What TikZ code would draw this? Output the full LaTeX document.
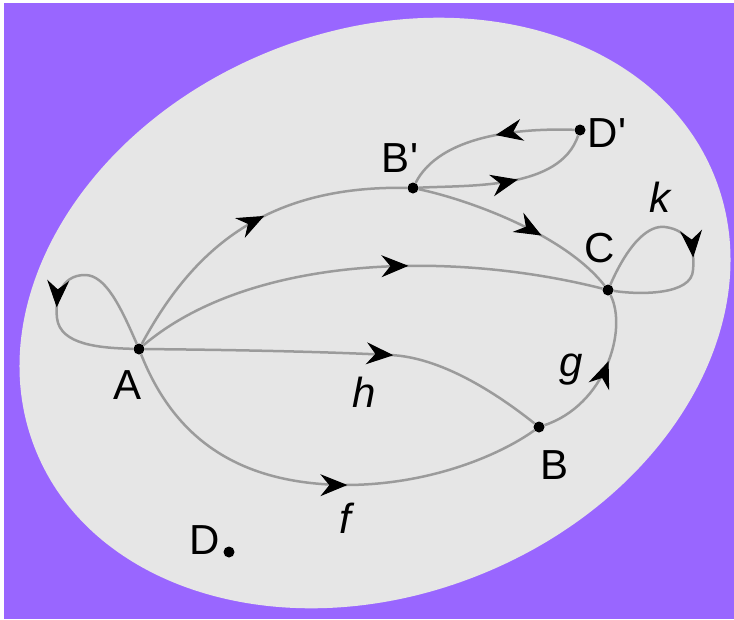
\documentclass[tikz,border=0pt]{standalone}
\usepackage{fontspec}
\setmainfont{Liberation Sans}
\usetikzlibrary{arrows.meta,decorations.markings}

\definecolor{bgpurple}{RGB}{153,102,255}
\definecolor{setgray}{RGB}{230,230,230}
\definecolor{curvegray}{RGB}{155,155,155}

\begin{document}
\begin{tikzpicture}[x=1pt,y=-1pt,
    maptip/.tip={Stealth[length=27pt,width=22pt,inset=9pt]},
    dot/.style={circle,fill=black,inner sep=0pt,minimum size=11pt},
    curve/.style={draw=curvegray,line width=2.5pt},
    midarrow/.style={postaction={decorate},
        decoration={markings,mark=at position #1 with {\arrow[black,line width=1pt]{maptip}}}},
    lbl/.style={font=\fontsize{42}{48}\selectfont},
    fname/.style={font=\fontsize{42}{48}\selectfont\itshape}]

% background and the set
\useasboundingbox (0,0) rectangle (734,619);
\fill[white] (0,0) rectangle (734,619);
\fill[bgpurple] (4,3) rectangle (734,619);
\fill[setgray,rotate around={22:(375,313)}] (375,313) ellipse [x radius=366, y radius=282];

% points
\node[dot] (A) at (139,349) {};
\node[dot] (Bp) at (413,188) {};
\node[dot] (Dp) at (580,130) {};
\node[dot] (C) at (608,290) {};
\node[dot] (B) at (539,427) {};
\node[dot] (D) at (229,552) {};

% point names
\node[lbl] (nameA) at (128,385) {A};
\node[lbl] (nameBp) at (400,158) {B\textquotesingle};
\node[lbl] (nameDp) at (607,133) {D\textquotesingle};
\node[lbl] (nameC) at (600,248) {C};
\node[lbl] (nameB) at (555,465) {B};
\node[lbl] (nameD) at (205,540) {D};

% map names
\node[fname] (namek) at (660,197) {k};
\node[fname] (nameg) at (571,370) {g};
\node[fname] (nameh) at (364,392) {h};
\node[fname] (namef) at (345,518) {f};

% arrows
\draw[curve,midarrow=0.58] (A) .. controls (120,305) and (105,275) .. (85,275)
    .. controls (60,275) and (55,300) .. (57,318) .. controls (60,345) and (100,348) .. (A);
\draw[curve,midarrow=0.55] (A) .. controls (190,255) and (260,185) .. (Bp);
\draw[curve,midarrow=0.59] (A) .. controls (250,255) and (450,250) .. (C);
\draw[curve,midarrow=0.61] (A) .. controls (250,350) and (330,352) .. (390,355)
    .. controls (440,357) and (495,392) .. (B);
\draw[curve,midarrow=0.57] (A) .. controls (175,440) and (240,484) .. (345,485)
    .. controls (430,485) and (500,455) .. (B);
\draw[curve,midarrow=0.58] (B) .. controls (605,405) and (628,330) .. (C);
\draw[curve,midarrow=0.62] (Bp) .. controls (470,200) and (565,235) .. (C);
\draw[curve,midarrow=0.56] (Bp) .. controls (470,185) and (560,190) .. (Dp);
\draw[curve,midarrow=0.45] (Dp) .. controls (520,128) and (440,135) .. (Bp);
\draw[curve,midarrow=0.56] (C) .. controls (630,240) and (650,225) .. (665,227)
    .. controls (690,230) and (695,250) .. (693,270) .. controls (692,295) and (640,295) .. (C);
\end{tikzpicture}
\end{document}
